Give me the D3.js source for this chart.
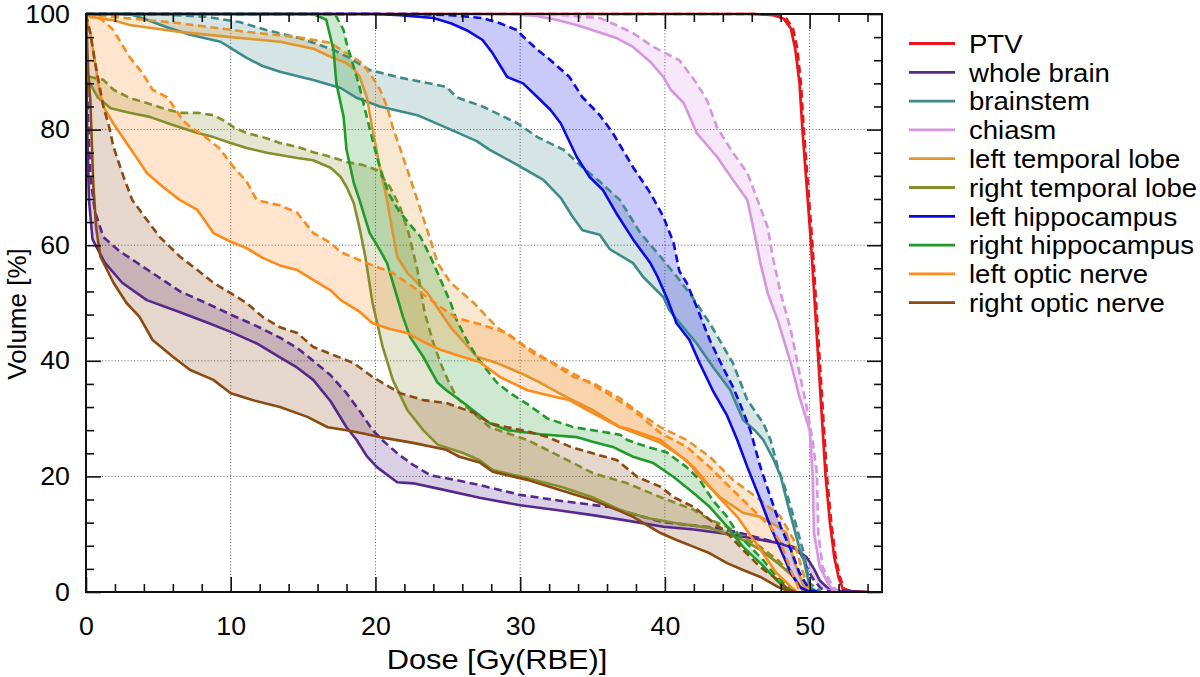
<!DOCTYPE html>
<html>
<head>
<meta charset="utf-8">
<script src="https://cdn.jsdelivr.net/npm/d3@7"></script>
<style>
  html, body { margin: 0; padding: 0; background: #fff; }
  svg { display: block; font-family: "Liberation Sans", Arial, Helvetica, sans-serif; }
</style>
</head>
<body>
<svg id="chart" width="1200" height="677"></svg>
<script>
// ---------------- DATA (dose Gy(RBE), volume %) ----------------
const structureNames = ["PTV", "whole brain", "brainstem", "chiasm", "left temporal lobe",
  "right temporal lobe", "left hippocampus", "right hippocampus", "left optic nerve", "right optic nerve"];
const structureColors = ["#e8161b", "#57288c", "#3e8a8a", "#d596df", "#e0952e",
  "#848f2c", "#0a0ae6", "#1f9a2b", "#ff8a1a", "#8a4a12"];

const xMajorTicks = [0, 10, 20, 30, 40, 50];
const yMajorTicks = [0, 20, 40, 60, 80, 100];
const xMinorTicks = [2, 4, 6, 8, 12, 14, 16, 18, 22, 24, 26, 28, 32, 34, 36, 38, 42, 44, 46, 48, 52, 54];
const yMinorTicks = [4, 8, 12, 16, 24, 28, 32, 36, 44, 48, 52, 56, 64, 68, 72, 76, 84, 88, 92, 96];

const ptvSolid = [[0,100],[46,100],[47.5,99.8],[48.2,99.2],[48.7,97.5],[49,94],[49.3,88],[49.5,80],[49.8,70],[50.1,60],[50.35,50],[50.6,40],[50.85,30],[51.1,20],[51.4,12],[51.7,6],[52,2.5],[52.3,0.5],[53,0.1],[54,0]];
const ptvDashed = [[0,100],[46.2,100],[47.7,99.8],[48.4,99.2],[48.85,97.5],[49.15,94],[49.4,88],[49.6,80],[49.9,70],[50.2,60],[50.45,50],[50.7,40],[50.95,30],[51.2,20],[51.5,12],[51.8,6],[52.1,2.5],[52.4,0.5],[53,0.1],[54,0]];

const brainSolid = [[0,100],[0.08,80],[0.2,68],[0.45,61],[1.3,57],[2.5,53.5],[4.2,50.5],[6.5,48.4],[8.5,46.5],[10,45],[11.8,43],[13.4,40.6],[14.6,38.8],[15.7,36.7],[16.9,33],[18,28.5],[18.7,26.3],[19.4,23.5],[20.1,21.6],[21.5,19],[22.6,18.8],[24.5,17.8],[27.2,16.3],[30,15],[32.5,14.2],[35,13.3],[37.5,12.3],[39.9,11.3],[42,10.8],[43.8,10.2],[46,9.3],[47.8,8.5],[49,7.5],[49.8,6],[50.3,4],[50.7,2],[51.2,0.8],[52,0.2],[54,0]];
const brainDashed = [[0,100],[0.1,85],[0.3,72],[0.6,66],[1.2,61.4],[2.3,59],[3.5,57],[5,54.5],[6.5,52],[8.3,50],[10,48],[11.8,46],[13.4,44],[14.6,42.2],[15.7,40],[16.9,37.5],[18,34.4],[19,31],[19.8,28],[20.6,26],[21.5,24],[22.6,22],[23.8,20.2],[25.5,19.4],[27.2,18.5],[30,16.8],[33,15.7],[36.2,14.7],[38.2,13.2],[39.9,12.1],[42,11.5],[43.8,11],[45.2,10.2],[46.6,9.3],[47.8,8.5],[48.9,7.8],[49.4,6.5],[49.8,4.3],[50.3,2],[50.8,0.6],[51.5,0]];

const stemSolid = [[0,100],[3,100],[4.2,99],[5.5,97.8],[7.2,96.4],[9.3,95.2],[10.2,93.8],[11.1,92.4],[12.2,91],[13.4,90],[15.7,88.6],[17.6,87.2],[18.7,85.5],[20.3,84],[22.9,82.5],[25.2,80],[27,78],[27.9,76.5],[29.8,73.9],[31.6,71.3],[32.8,68.2],[33.6,65],[34.3,62.6],[35.5,61.8],[36.2,59.3],[37.8,56.9],[38.5,54.5],[39.9,51],[40.3,48.8],[41.2,46],[42.2,43],[43.3,39],[44.5,35],[45.4,29.8],[46.2,28],[46.8,26.3],[47.5,23],[48,20],[48.5,15],[48.9,11.3],[49.3,7.5],[49.6,5.5],[50,0.9],[50.5,0]];
const stemDashed = [[0,100],[5,100],[8.4,99.5],[10.6,98.6],[12.5,97.2],[14.8,95.8],[17.1,93.8],[18.2,92.4],[19.6,90.3],[21.7,89],[24.9,87.4],[25.6,85.6],[27.4,84],[29.8,81.1],[31.2,78.7],[33,76.5],[34.3,73.5],[35.5,71],[36.9,67.8],[38.3,62.1],[39.7,58],[41,54],[41.9,51],[43.1,46.5],[44.7,39.6],[45.7,33.2],[46.8,29.2],[47.3,26.3],[47.8,21.6],[48.3,18],[48.9,13],[49.6,6.7],[50,1.5],[50.8,0]];

const chiasmSolid = [[0,100],[29,100],[31,99.7],[32.5,99],[34,98],[35.5,96.8],[36.7,95.8],[37.8,94.3],[39,91.7],[39.9,89.1],[40.4,86.9],[41.3,84.6],[42.2,79.4],[43.6,75.3],[44.7,71.3],[45.7,67.8],[46.1,63.1],[46.6,56.9],[47.1,51.7],[47.8,47],[48.7,39.6],[49.3,33.7],[50,28],[50.2,20.6],[50.3,10.2],[50.7,4.3],[51.4,0.9],[51.8,0]];
const chiasmDashed = [[0,100],[31,100],[33,99.8],[34.3,99.5],[35.5,99.3],[36.7,98],[37.8,96.7],[39.2,94.3],[41,92],[42.2,88],[42.9,85.1],[43.6,80.4],[44.7,76],[45.7,72.5],[46.4,67.8],[47.1,63.1],[47.5,57.4],[48,51.7],[48.7,45.3],[49.3,37.9],[49.8,32],[50.2,26.3],[50.5,20.6],[50.6,10.2],[50.9,4.3],[51.6,0.9],[52,0]];

const lTempSolid = [[0,100],[0.3,99.5],[1.9,98.9],[3,98.1],[6.5,96.9],[10,96],[13.4,95.2],[15.7,94],[16.9,92.6],[18,91.5],[18.5,90.5],[18.9,89.2],[19.4,85.6],[19.8,80],[20.3,73.5],[20.8,67.8],[21.2,62.1],[21.5,58],[22.2,55.2],[23.6,51.7],[25.2,45.8],[27,40.7],[28.4,39.6],[30,37.9],[31.4,36.2],[33.2,33.7],[35,31.5],[36.9,28.5],[38.5,27],[39.7,25.8],[41.5,22.8],[42.4,19.9],[43.8,16.4],[45.4,13.7],[46.6,13],[47.8,11.3],[48.4,10.2],[48.9,5.5],[49.6,0.9],[50,0]];
const lTempDashed = [[0,100],[1.9,99.5],[6.5,98.4],[11.1,96.9],[14.6,96],[16.9,95],[18,93.2],[19.1,91.5],[19.8,89],[20.3,87],[20.8,84],[21.2,80.4],[21.9,75.3],[22.9,67.8],[23.8,60.9],[24.3,56.9],[25.2,53.5],[26.8,50],[28.4,45.8],[30,43.1],[31.9,40.1],[33.7,37.2],[35,36.2],[36.9,33.5],[38.5,30.5],[39.7,28.5],[41.5,26.3],[43.1,23.4],[44.7,19.4],[46.6,15.9],[48,13],[48.9,9],[49.6,2.9],[50,0.3],[50.4,0]];

const rTempSolid = [[0,100],[0.05,89],[0.8,85.6],[1.7,83.7],[3,82.9],[4.4,82.2],[6,80.8],[7.7,79.4],[8.8,78.7],[10,77.7],[11.1,76.8],[12.5,76],[14.6,75.1],[15.7,74.7],[16.9,73.4],[17.6,71.8],[18,70.1],[18.5,67.3],[18.9,63],[19.3,58],[19.8,50],[20.5,42.4],[21.2,36.7],[22.2,31.5],[23.3,28],[24.3,25.5],[26.1,24],[27.2,22.8],[28.1,21.1],[30.5,19.7],[32.8,18.2],[35,16.4],[36.9,14.2],[38.8,12.8],[40.8,11.9],[43.1,11.1],[45.4,9],[46.6,7.3],[47.8,5],[48.9,2.6],[49.6,0]];
const rTempDashed = [[0,100],[0.05,90],[0.3,89.1],[1.2,88.6],[1.9,86.9],[3,85.5],[4.2,84.6],[5.3,83.7],[6.5,82.9],[7.7,82.9],[8.8,82.5],[9.7,81.3],[10.2,80.4],[11.1,79.4],[12.2,78.7],[13.4,77.7],[14.6,77],[15.7,76.1],[16.9,75.3],[18,74.4],[19.1,73.9],[20.1,73],[21,70.1],[21.7,66.6],[22.3,62],[22.9,55.7],[23.4,48.3],[24,43.1],[24.5,39.6],[25,36.7],[25.6,33.7],[26.5,31.5],[27.9,28.5],[30.5,26.3],[32.8,23.4],[35,20.6],[37.4,18.8],[39.7,16.4],[42,14.2],[43.1,12.5],[44.3,11.3],[45.4,9.5],[46.6,7.8],[47.8,5.5],[48.9,2.6],[49.6,0]];

const lHipSolid = [[0,100],[20,100],[21.7,99.8],[24,99.3],[25.2,98.4],[26.3,97.2],[27.4,95.5],[28.1,93.2],[29.1,89.1],[30.2,88],[31.2,85.6],[32.1,83.4],[32.8,81.1],[33.9,75.3],[34.8,71.8],[35.7,69.6],[36.7,65.3],[37.8,61],[39,56.9],[39.5,54.5],[40.2,50.5],[40.8,46.5],[41.7,43.6],[42.4,39.6],[43.3,34.9],[44.3,30.5],[45,26.3],[45.7,21.6],[46.6,15.9],[47.3,11.3],[48,7.3],[48.7,3.3],[49.3,0.9],[50,0]];
const lHipDashed = [[0,100],[22.9,100],[25.2,99.8],[27.4,99.3],[28.6,98.4],[29.8,97.2],[30.2,96.1],[31.2,93.8],[32.1,92],[33.4,89.1],[34.3,85.6],[35.5,82.5],[36.4,79.4],[37.8,73.5],[39,69],[39.9,64.9],[40.6,60.4],[41,55.5],[41.5,53.5],[42.2,49.3],[43.1,43.6],[44,38.9],[44.7,35.5],[45.2,32.5],[45.9,28],[46.6,21.6],[47.3,16.4],[48,11.3],[48.7,7.3],[49.3,3.3],[50,0.3],[50.7,0]];

const rHipSolid = [[0,100],[15.7,100],[16.6,99],[17.1,93.8],[17.3,88],[17.8,82.2],[18,76.5],[18.5,70.8],[18.9,67.8],[19.6,62.1],[20.3,59.2],[20.8,56.9],[21.5,51],[21.9,47.6],[22.4,44.1],[23.3,40.7],[24.3,36.2],[24.9,34.9],[26.1,32.7],[27.9,29.2],[29.1,28],[31.4,27.3],[33.9,26.8],[35,26],[36.4,25.1],[37.8,23.4],[39.2,22.3],[40.6,19.9],[42,17.1],[43.1,14.7],[44.3,11.3],[45.4,7.8],[46.6,5],[47.5,2.6],[48.2,0.9],[48.9,0]];
const rHipDashed = [[0,100],[17.2,100],[17.8,97.2],[18,95],[18.5,90.8],[18.9,87.4],[19.4,82.2],[19.8,78.2],[20.3,73.5],[20.9,69],[21.6,66],[22.4,63.5],[23.1,61.5],[23.8,58],[24.5,54],[25.2,50],[25.6,47.1],[26.3,43.6],[27,40.7],[27.7,38.4],[28.4,36.2],[29.3,34.4],[30.5,32.5],[31.9,30],[33.7,28.5],[35,28],[36.9,27.2],[37.4,26.3],[38.8,25.1],[40.1,24.2],[41.5,21.6],[42.4,19.4],[43.3,15.9],[44.3,13],[45,10.2],[45.9,7.8],[46.8,5.5],[47.5,3.3],[48.2,1.6],[48.9,0]];

const lOptSolid = [[0,100],[0.05,99],[0.3,96.7],[0.6,92],[0.9,87],[1.2,84],[1.9,81],[2.8,77.7],[3.4,75.5],[4.2,72.5],[5.3,70.1],[6.5,67.8],[7.7,66.1],[8.8,62.1],[10,60.6],[11.1,59.5],[12.2,57.8],[13.4,56.5],[14.6,55.7],[15.7,54],[16.9,52.2],[17.6,50.5],[18.9,48.5],[19.8,46.5],[21,45.5],[22.2,44.8],[23.3,43.3],[24.5,41.9],[25.6,41],[27.2,39.8],[28.6,37.2],[30.5,34.9],[32.5,33.7],[33.4,33.2],[35,31],[36.9,28.5],[37.4,28.3],[39.7,26.3],[42,21.6],[43.3,17.6],[45,13],[46.6,7.3],[47.7,3.3],[48.7,0.9],[49.1,0]];
const lOptDashed = [[0,100],[0.8,99.5],[1.4,98.4],[1.9,97.2],[2.3,95.5],[3,92.6],[3.9,89.8],[4.6,86.9],[5.6,85.6],[6.2,83.5],[6.7,81.5],[7.2,80.5],[8.1,79],[9.2,76.8],[10.2,73.5],[11.1,71],[11.8,67.8],[13.4,66.9],[14.6,65.6],[15.7,62.1],[16.9,60.4],[17.6,58.8],[19.4,56.9],[21.2,55.2],[23.1,51.9],[24.5,49.3],[25.6,47.4],[27.4,46.2],[29.1,44.8],[30.9,41.3],[32.3,39.6],[34.1,37.2],[36,34.4],[37.8,31.5],[39.7,27.5],[41.5,25.1],[43.1,21.6],[44.7,17.6],[46.1,14.2],[47.3,11.3],[48,8.5],[48.7,3.8],[49.3,0.3],[49.6,0]];

const rOptSolid = [[0,100],[0.15,90],[0.3,85],[0.5,70.7],[0.7,63],[1,58],[1.9,53.5],[2.8,50],[3.7,47.6],[4.6,43.6],[6,40.7],[7.2,38.4],[8.8,36.7],[10,34.4],[11.5,33.2],[13.4,32],[15.3,30.3],[16.7,28.5],[18,28],[19,27.5],[20.3,26.8],[22.6,25.8],[24.9,24.6],[25.8,23.4],[27.2,22.4],[28.1,20.8],[30.5,19.4],[32.8,17.6],[35,15.9],[36.7,14.2],[37.8,13],[39.7,10.2],[40.8,9],[42,7.8],[43.1,6.7],[44.3,5],[45.4,3.8],[46.6,2.6],[47.8,0.9],[48.4,0.3],[49,0]];
const rOptDashed = [[0,100],[0.3,96.7],[0.6,92],[0.9,88],[1.2,84],[1.6,80.5],[1.9,77],[2.3,74],[2.6,71.8],[3.2,67.8],[4.2,64.4],[5.1,61.4],[5.6,60.2],[6.5,58],[7.7,55.7],[8.8,53.5],[10,51.7],[11.1,50],[12.2,47.6],[13.4,45.8],[14.6,44.8],[15.7,42.4],[17.1,41],[18.5,39.6],[19.8,37.2],[21.7,34.4],[23.3,33.2],[24.9,32.7],[26.8,31],[27.9,29.2],[29.1,28.5],[30.5,27.8],[31.9,26.8],[33.5,25.1],[35,24],[36.7,22.8],[38.1,19.9],[39.7,18.2],[40.6,16.4],[42,14.7],[43.1,12.5],[44.3,10.2],[45.4,7.3],[46.6,4.3],[47.8,2.1],[48.5,0.5],[49,0]];

const solidSeries = [ptvSolid, brainSolid, stemSolid, chiasmSolid, lTempSolid, rTempSolid, lHipSolid, rHipSolid, lOptSolid, rOptSolid];
const dashedSeries = [ptvDashed, brainDashed, stemDashed, chiasmDashed, lTempDashed, rTempDashed, lHipDashed, rHipDashed, lOptDashed, rOptDashed];

// ---------------- LAYOUT ----------------
const plot = { left: 86, right: 882, top: 14, bottom: 592 };
const svg = d3.select("#chart");

const x = d3.scaleLinear().domain([0, 55]).range([plot.left, plot.right]);
const y = d3.scaleLinear().domain([0, 100]).range([plot.bottom, plot.top]);

svg.append("defs").append("clipPath").attr("id", "plotclip")
  .append("rect").attr("x", plot.left).attr("y", plot.top - 2)
  .attr("width", plot.right - plot.left).attr("height", plot.bottom - plot.top + 2);

// grid
const grid = svg.append("g").attr("stroke", "#555").attr("stroke-width", 1).attr("stroke-dasharray", "1,2.2");
grid.selectAll(".gx").data(xMajorTicks.filter(d => d > 0)).join("line")
  .attr("x1", d => x(d)).attr("x2", d => x(d)).attr("y1", plot.top).attr("y2", plot.bottom);
grid.selectAll(".gy").data(yMajorTicks.filter(d => d > 0 && d < 100)).join("line")
  .attr("y1", d => y(d)).attr("y2", d => y(d)).attr("x1", plot.left).attr("x2", plot.right);

// curves
const line = d3.line().x(d => x(d[0])).y(d => y(d[1]));
const data = structureNames.map((n, i) => ({ name: n, color: structureColors[i], solid: solidSeries[i], dashed: dashedSeries[i] }));
const curves = svg.append("g").attr("clip-path", "url(#plotclip)");

curves.selectAll(".band").data(data).join("path")
  .attr("d", d => line(d.solid.concat(d.dashed.slice().reverse())) + "Z")
  .attr("fill", d => d.color).attr("fill-opacity", 0.22).attr("stroke", "none");

data.forEach(d => {
  curves.append("path").attr("d", line(d.dashed)).attr("fill", "none")
    .attr("stroke", d.color).attr("stroke-width", 2.6).attr("stroke-dasharray", "8,4.5")
    .attr("stroke-linejoin", "round");
  curves.append("path").attr("d", line(d.solid)).attr("fill", "none")
    .attr("stroke", d.color).attr("stroke-width", 2.6).attr("stroke-linejoin", "round");
});

// axes (ticks inward on all sides)
const tickFont = 25;
function styleAxis(g) { g.select(".domain").remove(); g.selectAll(".tick line").attr("stroke", "#111").attr("stroke-width", 1.6); }
function styleLabels(g) {
  g.selectAll("text").attr("font-size", tickFont).attr("fill", "#000")
    .attr("font-family", "Liberation Sans, Arial, sans-serif").attr("transform", "scale(1.07,1)");
}

svg.append("g").attr("transform", `translate(0,${plot.bottom})`)
  .call(d3.axisBottom(x).tickValues(xMajorTicks).tickSize(-15).tickPadding(25).tickFormat(d3.format("d")))
  .call(styleAxis).call(styleLabels);
svg.append("g").attr("transform", `translate(0,${plot.bottom})`)
  .call(d3.axisBottom(x).tickValues(xMinorTicks).tickSize(-8).tickFormat("")).call(styleAxis);
svg.append("g").attr("transform", `translate(0,${plot.top})`)
  .call(d3.axisTop(x).tickValues(xMajorTicks).tickSize(-15).tickFormat("")).call(styleAxis);
svg.append("g").attr("transform", `translate(0,${plot.top})`)
  .call(d3.axisTop(x).tickValues(xMinorTicks).tickSize(-8).tickFormat("")).call(styleAxis);

svg.append("g").attr("transform", `translate(${plot.left},0)`)
  .call(d3.axisLeft(y).tickValues(yMajorTicks).tickSize(-15).tickPadding(15).tickFormat(d3.format("d")))
  .call(styleAxis).call(styleLabels);
svg.append("g").attr("transform", `translate(${plot.left},0)`)
  .call(d3.axisLeft(y).tickValues(yMinorTicks).tickSize(-8).tickFormat("")).call(styleAxis);
svg.append("g").attr("transform", `translate(${plot.right},0)`)
  .call(d3.axisRight(y).tickValues(yMajorTicks).tickSize(-15).tickFormat("")).call(styleAxis);
svg.append("g").attr("transform", `translate(${plot.right},0)`)
  .call(d3.axisRight(y).tickValues(yMinorTicks).tickSize(-8).tickFormat("")).call(styleAxis);

// frame
svg.append("rect").attr("x", plot.left).attr("y", plot.top)
  .attr("width", plot.right - plot.left).attr("height", plot.bottom - plot.top)
  .attr("fill", "none").attr("stroke", "#111").attr("stroke-width", 2);

// axis titles
svg.append("g").attr("transform", "translate(497,669) scale(1.08,1)")
  .append("text").attr("text-anchor", "middle").attr("font-size", 28.5).attr("fill", "#000").text("Dose [Gy(RBE)]");
svg.append("text").attr("transform", "translate(26,314) rotate(-90)")
  .attr("text-anchor", "middle").attr("font-size", 26).attr("fill", "#000").text("Volume [%]");

// legend
const rowH = 28.8, legTop = 43.5;
const rows = svg.append("g").selectAll("g").data(data).join("g")
  .attr("transform", (d, i) => `translate(0,${legTop + i * rowH})`);
rows.append("line").attr("x1", 909).attr("x2", 955).attr("y1", 0).attr("y2", 0)
  .attr("stroke", d => d.color).attr("stroke-width", 2.8);
rows.append("g").attr("transform", "translate(969,0) scale(1.04,1)")
  .append("text").attr("x", 0).attr("y", 0).attr("dy", "0.35em")
  .attr("font-size", 26.5).attr("fill", "#000").text(d => d.name);
</script>
</body>
</html>
